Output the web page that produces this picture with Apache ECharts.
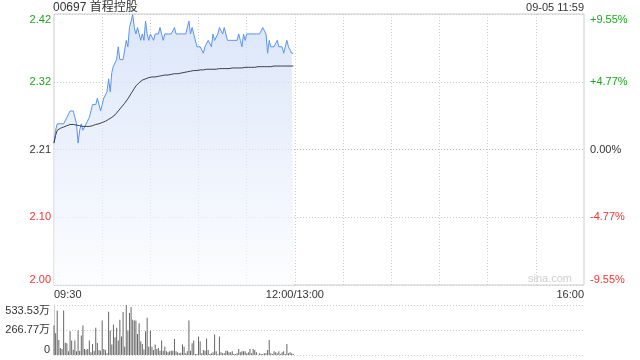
<!DOCTYPE html>
<html><head><meta charset="utf-8">
<script src="https://cdn.jsdelivr.net/npm/echarts@6/dist/echarts.min.js"></script>
<style>html,body{margin:0;padding:0;background:#fff}#c{width:640px;height:360px}</style>
</head><body><div id="c"></div>
<script>
var title = '00697 首程控股';
var stamp = '09-05 11:59';
var prevClose = 2.21;
var pctRange = 9.55;
var priceTicks = ['2.00', '2.10', '2.21', '2.32', '2.42'];
var pctTicks = ['-9.55%', '-4.77%', '0.00%', '+4.77%', '+9.55%'];
var volTicks = ['0', '266.77万', '533.53万'];
var volMax = 533.53;
var xLabels = {0: '09:30', 150: '12:00/13:00', 330: '16:00'};

var prices = [
2.22,2.24,2.25,2.25,2.25,2.25,2.25,2.25,2.26,2.26,
2.27,2.27,2.27,2.26,2.25,2.22,2.24,2.25,2.24,2.24,
2.25,2.25,2.26,2.26,2.28,2.28,2.28,2.29,2.29,2.27,
2.28,2.29,2.29,2.30,2.32,2.30,2.33,2.34,2.34,2.35,
2.37,2.35,2.35,2.35,2.35,2.38,2.37,2.40,2.40,2.42,
2.40,2.39,2.40,2.39,2.38,2.39,2.38,2.41,2.39,2.38,
2.39,2.39,2.38,2.39,2.39,2.39,2.40,2.39,2.38,2.39,
2.39,2.39,2.39,2.39,2.39,2.40,2.39,2.39,2.39,2.39,
2.39,2.39,2.39,2.39,2.41,2.39,2.40,2.39,2.39,2.37,
2.37,2.37,2.37,2.36,2.37,2.37,2.38,2.38,2.37,2.39,
2.38,2.38,2.39,2.40,2.40,2.39,2.40,2.39,2.38,2.38,
2.38,2.38,2.38,2.38,2.38,2.39,2.38,2.37,2.39,2.38,
2.39,2.39,2.39,2.39,2.39,2.39,2.39,2.39,2.39,2.39,
2.40,2.40,2.39,2.36,2.38,2.37,2.37,2.37,2.37,2.38,
2.37,2.37,2.37,2.36,2.36,2.38,2.37,2.37,2.36,2.36
];
var avgPrices = [
2.220,2.232,2.240,2.242,2.243,2.244,2.245,2.246,2.247,2.248,
2.249,2.249,2.249,2.249,2.248,2.247,2.247,2.246,2.246,2.246,
2.246,2.246,2.246,2.247,2.247,2.248,2.249,2.250,2.250,2.251,
2.252,2.253,2.254,2.255,2.257,2.258,2.260,2.262,2.264,2.267,
2.270,2.273,2.276,2.279,2.282,2.285,2.289,2.292,2.297,2.301,
2.305,2.309,2.312,2.314,2.316,2.318,2.319,2.320,2.321,2.322,
2.322,2.323,2.323,2.323,2.324,2.324,2.324,2.325,2.325,2.326,
2.326,2.326,2.327,2.327,2.327,2.328,2.328,2.328,2.329,2.329,
2.330,2.330,2.331,2.331,2.332,2.332,2.332,2.333,2.333,2.333,
2.334,2.334,2.334,2.334,2.334,2.335,2.335,2.335,2.335,2.335,
2.335,2.335,2.336,2.336,2.336,2.336,2.336,2.336,2.336,2.336,
2.337,2.337,2.337,2.337,2.337,2.337,2.337,2.337,2.338,2.338,
2.338,2.338,2.338,2.338,2.338,2.338,2.339,2.339,2.339,2.339,
2.339,2.339,2.339,2.339,2.339,2.339,2.339,2.340,2.340,2.340,
2.340,2.340,2.340,2.340,2.340,2.340,2.340,2.340,2.340,2.340
];
var volumes = [
315,233,476,161,75,64,476,132,125,40,
254,154,57,154,39,261,46,207,315,64,
57,64,154,29,118,46,290,129,54,46,
368,64,54,18,461,261,111,326,190,290,
154,376,197,458,89,533,261,447,512,376,
368,368,225,340,147,118,60,254,397,89,
261,89,54,111,64,75,46,154,46,89,
39,29,39,46,46,172,39,29,18,25,
111,89,18,39,368,46,125,154,11,11,
197,147,18,54,46,175,54,11,18,29,
218,39,11,197,29,18,18,46,46,29,
29,39,11,11,18,64,29,39,39,39,
18,29,64,18,64,54,29,3,18,11,
11,18,18,54,161,18,11,39,29,18,
39,11,29,39,11,118,18,29,18,11
];

// category times 09:30..16:00, lunch break merged into one tick
var times = [];
function pad(n){return (n<10?'0':'')+n;}
for (var m = 9*60+30; m < 12*60; m++) times.push(pad(Math.floor(m/60))+':'+pad(m%60));
times.push('12:00/13:00');
for (var m2 = 13*60+1; m2 <= 16*60; m2++) times.push(pad(Math.floor(m2/60))+':'+pad(m2%60));

var FONT = 'Arial, "Liberation Sans", "Noto Sans CJK SC", sans-serif';
var GREEN = '#1ea51e', RED = '#f03232', TXT = '#333';
var pMin = prevClose * (1 - pctRange/100), pMax = prevClose * (1 + pctRange/100);

function tickColor(i){ return i < 2 ? RED : (i === 2 ? TXT : GREEN); }

var chart = echarts.init(document.getElementById('c'), null, {renderer: 'canvas'});
chart.setOption({
  animation: false,
  backgroundColor: '#fff',
  textStyle: {fontFamily: FONT},
  title: [
    {text: title, left: 53, top: 0, padding: 0, textStyle: {fontSize: 12, fontWeight: 'normal', color: TXT, fontFamily: FONT, lineHeight: 15}},
    {text: stamp, right: 56, top: 1, padding: 0, textStyle: {fontSize: 11, fontWeight: 'normal', color: TXT, fontFamily: FONT, lineHeight: 13}}
  ],
  graphic: [{type: 'text', right: 68, top: 273, style: {text: 'sina.com', fill: '#cfcfcf', font: '11px ' + FONT}}],
  grid: [
    {left: 54, right: 56, top: 14, height: 271, show: true, borderColor: '#cccccc', borderWidth: 1},
    {left: 54, right: 56, top: 305, height: 50}
  ],
  xAxis: [
    {type: 'category', gridIndex: 0, data: times, boundaryGap: false,
     axisLine: {show: false}, axisTick: {show: false},
     axisLabel: {interval: function(i){return xLabels[i] !== undefined;}, formatter: function(v, i){return xLabels[i] || '';},
       color: TXT, fontSize: 11, margin: 4, alignMinLabel: 'left', alignMaxLabel: 'right', showMinLabel: true, showMaxLabel: true},
     splitLine: {show: true, interval: function(i){return i % 30 === 0 && i !== 0 && i !== 330;}, lineStyle: {color: '#cccccc', type: [1, 2], width: 1}}},
    {type: 'category', gridIndex: 1, data: times, boundaryGap: false,
     axisLine: {show: false}, axisTick: {show: false}, axisLabel: {show: false}, splitLine: {show: false}}
  ],
  yAxis: [
    {type: 'value', gridIndex: 0, min: pMin, max: pMax, interval: (pMax - pMin)/4, position: 'left',
     axisLine: {show: false}, axisTick: {show: false},
     axisLabel: {formatter: function(v, i){return priceTicks[i];}, color: function(v, i){return tickColor(i);}, fontSize: 11, margin: 3,
       verticalAlignMinLabel: 'bottom', verticalAlignMaxLabel: 'top'},
     splitLine: {show: true, lineStyle: {color: ['#cccccc','#cccccc','#b4b4b4','#cccccc','#cccccc'], type: [1, 2]}}},
    {type: 'value', gridIndex: 0, min: -pctRange, max: pctRange, interval: pctRange/2, position: 'right',
     axisLine: {show: false}, axisTick: {show: false},
     axisLabel: {formatter: function(v, i){return pctTicks[i];}, color: function(v, i){return tickColor(i);}, fontSize: 11, margin: 6,
       verticalAlignMinLabel: 'bottom', verticalAlignMaxLabel: 'top'},
     splitLine: {show: false}},
    {type: 'value', gridIndex: 1, min: 0, max: volMax, interval: volMax/2, position: 'left',
     axisLine: {show: true, lineStyle: {color: '#cccccc'}}, axisTick: {show: false},
     axisLabel: {formatter: function(v, i){return volTicks[i];}, color: TXT, fontSize: 11, margin: 4,
       verticalAlignMinLabel: 'bottom', verticalAlignMaxLabel: 'top'},
     splitLine: {show: true, lineStyle: {color: '#cccccc', type: [1, 2]}}}
  ],
  series: [
    {type: 'line', xAxisIndex: 0, yAxisIndex: 0, data: prices, showSymbol: false, symbol: 'none',
     lineStyle: {color: '#5a93f0', width: 1},
     areaStyle: {origin: 'start', color: new echarts.graphic.LinearGradient(0, 0, 0, 1, [{offset: 0, color: '#cddcf7'}, {offset: 1, color: '#fbfcff'}])},
     z: 2},
    {type: 'line', xAxisIndex: 0, yAxisIndex: 0, data: avgPrices, showSymbol: false, symbol: 'none',
     lineStyle: {color: '#3a3f48', width: 1}, z: 3},
    {type: 'bar', xAxisIndex: 1, yAxisIndex: 2, data: volumes, barWidth: 1, itemStyle: {color: '#666666'}}
  ]
});
</script></body></html>
